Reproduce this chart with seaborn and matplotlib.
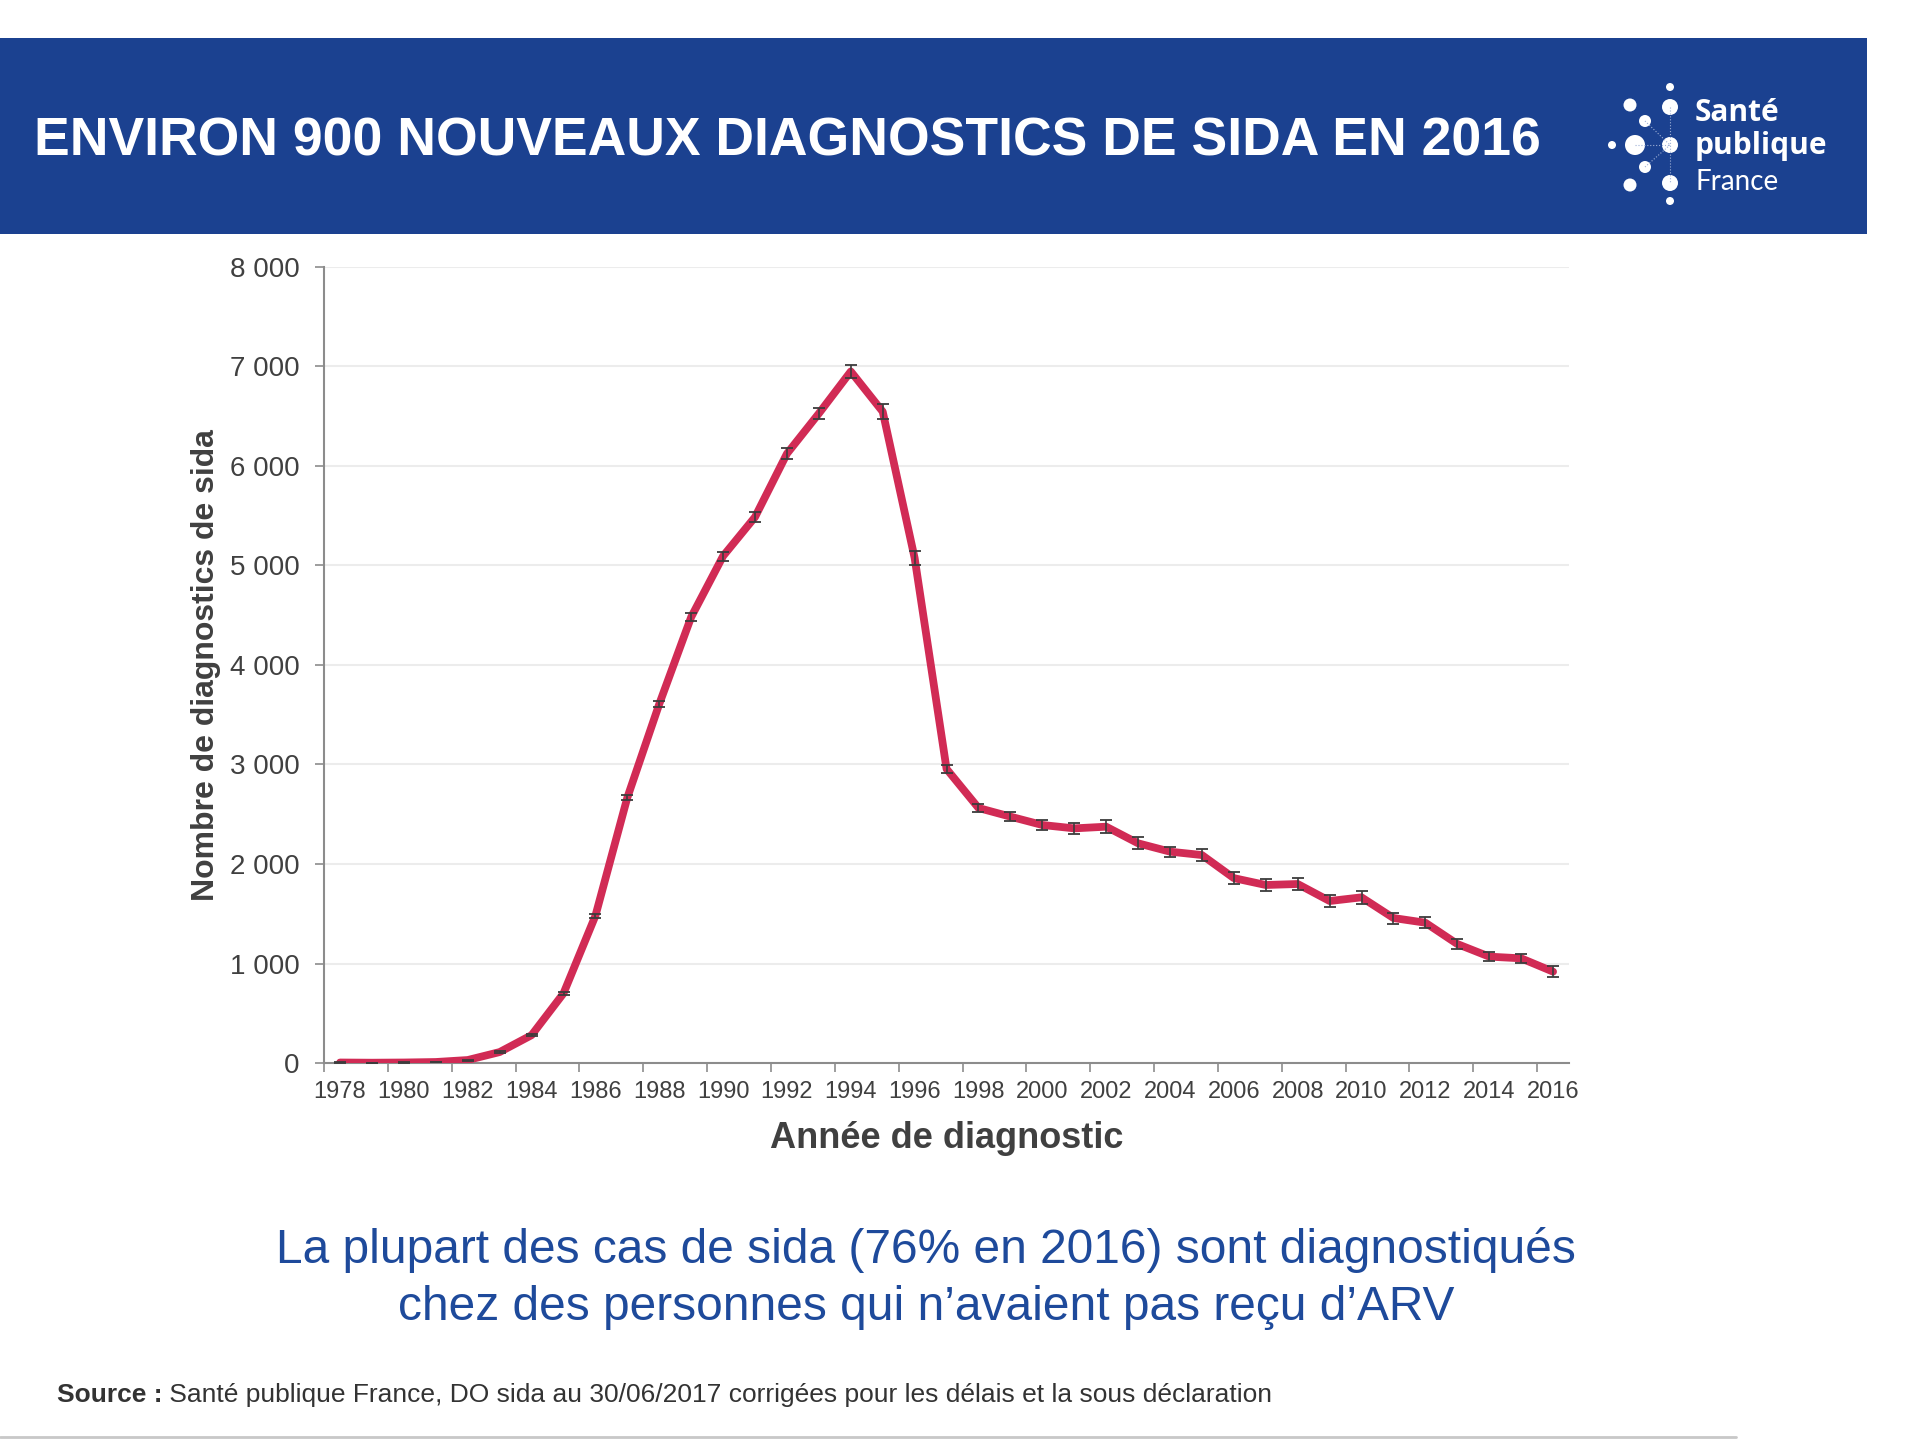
import matplotlib
matplotlib.use('Agg')
import matplotlib.pyplot as plt
from matplotlib.patches import Rectangle, Circle
import seaborn as sns

# Données : nombre de diagnostics de sida par année
years = list(range(1978, 2017))
cases = [5, 3, 5, 10, 30, 110, 280, 700, 1480,
         2668, 3608, 4482, 5095, 5487, 6124, 6528, 6950, 6546, 5075,
         2955, 2563, 2476, 2392, 2358, 2375, 2208, 2124, 2090, 1858,
         1789, 1799, 1628, 1665, 1457, 1410, 1196, 1069, 1052, 918]
err = [2, 2, 2, 3, 5, 8, 12, 15, 22,
       25, 29, 42, 45, 47, 54, 55, 65, 73, 70,
       42, 45, 45, 50, 58, 64, 62, 50, 57, 64,
       58, 64, 65, 65, 55, 54, 50, 44, 47, 55]
y_ticks = [0, 1000, 2000, 3000, 4000, 5000, 6000, 7000, 8000]
y_tick_labels = ['0', '1 000', '2 000', '3 000', '4 000', '5 000', '6 000', '7 000', '8 000']
x_ticks = years[::2]
x_tick_labels = [str(y) for y in x_ticks]

title = 'ENVIRON 900 NOUVEAUX DIAGNOSTICS DE SIDA EN 2016'
subtitle = ['La plupart des cas de sida (76% en 2016) sont diagnostiqués',
            'chez des personnes qui n\u2019avaient pas reçu d\u2019ARV']
source_bold = 'Source :'
source_text = ' Santé publique France, DO sida au 30/06/2017 corrigées pour les délais et la sous déclaration'

BLUE = '#1B4190'
RED = '#D12B55'
GREY_TXT = '#404040'

sns.set_theme(style='white')
plt.rcParams['font.family'] = ['Liberation Sans', 'DejaVu Sans']

fig = plt.figure(figsize=(19.2, 14.4), dpi=100)
fig.patch.set_facecolor('white')

# calque de fond en coordonnées pixels
bg = fig.add_axes([0, 0, 1, 1], zorder=0)
bg.set_xlim(0, 1920)
bg.set_ylim(1440, 0)
bg.axis('off')

# bandeau titre
bg.add_patch(Rectangle((0, 38), 1867, 196, color=BLUE, lw=0))
bg.text(34, 142, title, color='white', fontsize=38.5, fontweight='bold',
        ha='left', va='center')

# logo Santé publique France
dots = [(1670, 87, 4), (1670, 107, 8), (1630, 105, 6.5), (1645, 121, 6),
        (1612, 145, 4), (1635, 145, 10), (1670, 145, 8), (1645, 167, 6),
        (1630, 185, 6.5), (1670, 183, 8), (1670, 201, 4)]
for (x0, y0), (x1, y1) in [((1635, 145), (1670, 145)), ((1645, 121), (1670, 145)),
                           ((1645, 167), (1670, 145)), ((1670, 107), (1670, 183))]:
    bg.plot([x0, x1], [y0, y1], color='#9fb0d6', lw=0.8, ls=':')
for x, y, r in dots:
    bg.add_patch(Circle((x, y), r, color='white', lw=0))
bg.text(1695, 113, 'Santé', color='white', fontsize=21.5, fontweight='bold',
        family=['Open Sans', 'DejaVu Sans'], ha='left', va='center')
bg.text(1695, 146, 'publique', color='white', fontsize=21.5, fontweight='bold',
        family=['Open Sans', 'DejaVu Sans'], ha='left', va='center')
bg.text(1695, 182, 'France', color='white', fontsize=20, fontweight='normal',
        family=['Lato', 'DejaVu Sans'], ha='left', va='center')

# texte sous le graphique
bg.text(926, 1250, subtitle[0], color='#1E4A9B', fontsize=34.5, ha='center', va='center')
bg.text(926, 1307, subtitle[1], color='#1E4A9B', fontsize=34.5, ha='center', va='center')

t = bg.text(57, 1395, source_bold, color='#333333', fontsize=19, fontweight='bold',
            ha='left', va='center')
renderer = fig.canvas.get_renderer()
bb = t.get_window_extent(renderer)
bg.text(bb.x1, 1395, source_text, color='#333333', fontsize=19, ha='left', va='center')
bg.plot([0, 1736], [1437, 1437], color='#c8c8c8', lw=2)

# graphique principal
ax = fig.add_axes([0.1688, 0.2618, 0.6484, 0.5528], zorder=1)
ax.set_facecolor('white')
sns.lineplot(x=years, y=cases, ax=ax, color=RED, linewidth=5.6, errorbar=None,
             solid_joinstyle='round', solid_capstyle='round', zorder=3)
ax.errorbar(years, cases, yerr=err, fmt='none', ecolor='#3c3c3c',
            elinewidth=1.2, capsize=4.5, capthick=1.3, zorder=4)

ax.set_xlim(1977.5, 2016.5)
ax.set_ylim(0, 8000)
ax.set_yticks(y_ticks)
ax.set_yticklabels(y_tick_labels)
ax.set_xticks(x_ticks)
ax.set_xticklabels(x_tick_labels)
ax.set_xticks([y - 0.5 for y in x_ticks], minor=True)

ax.yaxis.grid(True, color='#ececec', lw=1.5)
ax.set_axisbelow(True)
for s in ['top', 'right']:
    ax.spines[s].set_visible(False)
for s in ['left', 'bottom']:
    ax.spines[s].set_color('#8c8c8c')
    ax.spines[s].set_linewidth(1.5)

ax.tick_params(axis='y', which='major', length=6.5, width=1.2, color='#8c8c8c',
               direction='out', pad=11, labelsize=20, labelcolor=GREY_TXT, left=True)
ax.tick_params(axis='x', which='major', length=0, pad=13, labelsize=17,
               labelcolor=GREY_TXT)
ax.tick_params(axis='x', which='minor', length=6.5, width=1.2, color='#8c8c8c',
               direction='out', bottom=True)

ax.set_xlabel('Année de diagnostic', fontsize=26, fontweight='bold', color=GREY_TXT)
ax.set_ylabel('Nombre de diagnostics de sida', fontsize=23, fontweight='bold', color=GREY_TXT)
ax.xaxis.set_label_coords(0.5, -0.073)
ax.yaxis.set_label_coords(-0.083, 0.5)

fig.savefig('out.png', dpi=100)
